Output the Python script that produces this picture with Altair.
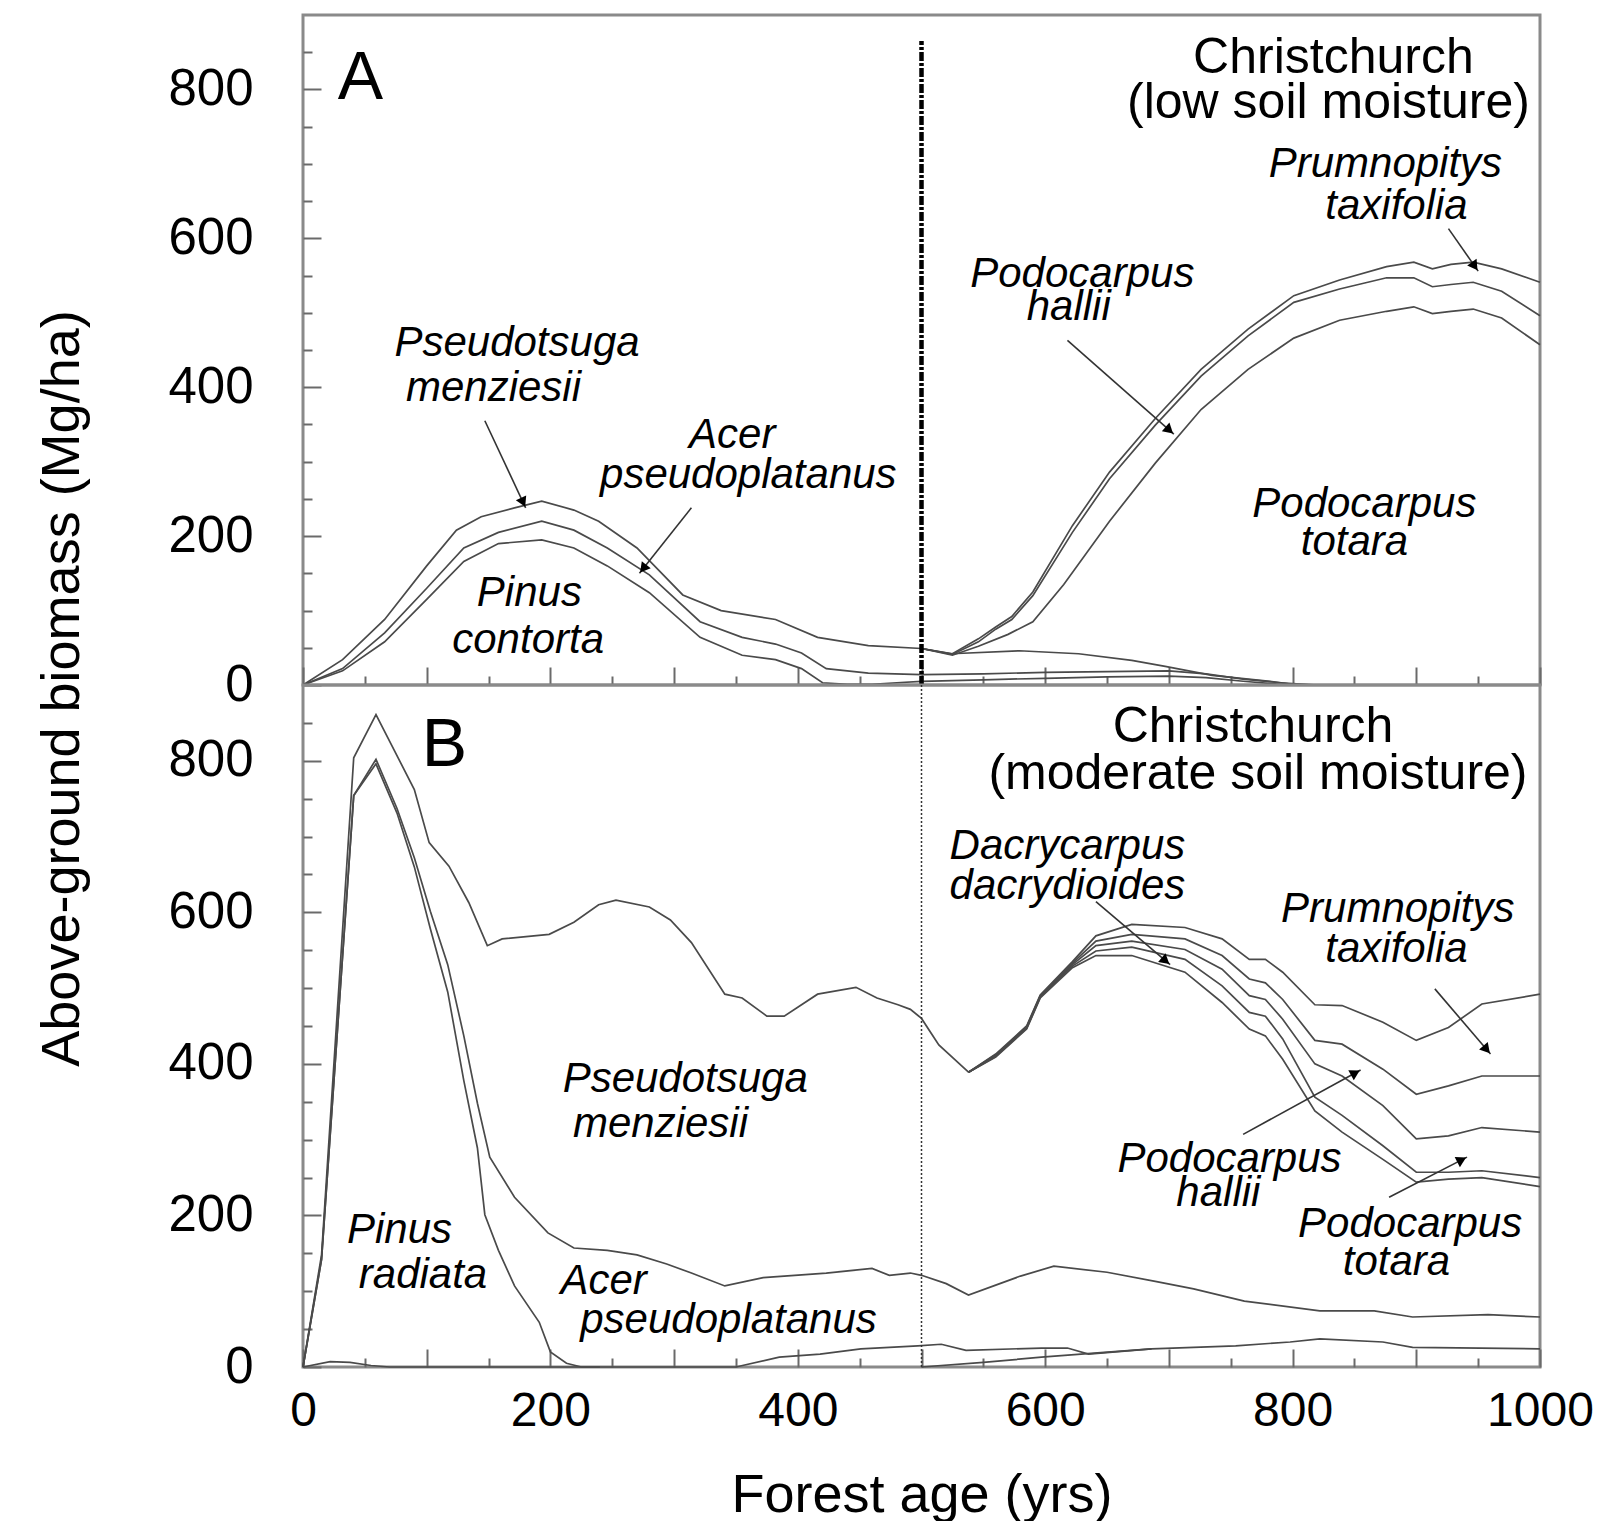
import math
import altair as alt
import pandas as pd

FONT = "Liberation Sans"

# ---------------- Panel A: Christchurch, low soil moisture ----------------
A_PSEUDO_YEAR = [0, 32, 66, 100, 124, 144, 171, 193, 219, 239, 270, 307, 338, 382, 416, 457, 500, 524, 579, 627, 670, 697, 735, 776, 800, 820]
A_PSEUDO_VAL = [0, 34, 88, 160, 208, 226, 238, 247, 235, 220, 184, 121, 100, 88, 64, 53, 49, 42, 46, 42, 33, 25, 13, 6, 1, 0]

A_ACER_YEAR = [0, 32, 66, 100, 130, 158, 193, 219, 246, 280, 321, 355, 382, 403, 423, 457, 500, 550, 600, 650, 700, 730, 760, 790, 820]
A_ACER_VAL = [0, 22, 70, 130, 184, 205, 220, 208, 184, 148, 85, 64, 55, 43, 22, 16, 14, 15, 17, 18, 19, 15, 8, 3, 0]

A_PINUS_YEAR = [0, 32, 66, 100, 130, 158, 193, 219, 246, 280, 321, 355, 382, 403, 420, 440, 460, 480, 500, 550, 600, 650, 700, 730, 760, 790, 810]
A_PINUS_VAL = [0, 19, 58, 115, 166, 190, 195, 184, 160, 124, 64, 40, 34, 22, 3, 1, 1, 3, 5, 7, 9, 11, 12, 10, 5, 1, 0]

A_NATIVE_YEAR = [500, 525, 546, 560, 573, 590, 622, 652, 689, 726, 764, 801, 838, 876, 898, 913, 928, 946, 969, 1000]
A_PRUM_VAL = [49, 42, 62, 78, 92, 125, 214, 286, 358, 424, 478, 523, 544, 562, 568, 559, 565, 568, 559, 541]
A_HALL_VAL = [49, 41, 58, 75, 88, 120, 205, 277, 349, 415, 469, 514, 532, 547, 547, 535, 538, 541, 529, 496]
A_TOT_YEAR = [500, 525, 546, 570, 590, 615, 652, 689, 726, 764, 801, 838, 876, 898, 913, 928, 946, 969, 1000]
A_TOT_VAL = [49, 40, 52, 68, 85, 135, 220, 298, 370, 424, 466, 490, 502, 508, 499, 502, 505, 493, 457]

# ---------------- Panel B: Christchurch, moderate soil moisture ----------------
B_PSEUDO_YEAR = [0, 15, 41, 59, 90, 102, 118, 134, 149, 161, 199, 219, 239, 253, 280, 297, 314, 341, 355, 375, 389, 416, 447, 464, 481, 491, 500, 514, 538]
B_PSEUDO_VAL = [0, 148, 804, 861, 762, 692, 661, 613, 556, 565, 571, 587, 610, 616, 607, 590, 560, 492, 487, 463, 463, 492, 501, 487, 478, 472, 460, 425, 389]

B_ACER_YEAR = [0, 15, 41, 59, 76, 90, 103, 117, 130, 141, 151, 171, 198, 219, 246, 270, 294, 314, 341, 372, 423, 460, 474, 491, 500, 520, 538, 560, 580, 607, 650, 689, 720, 761, 822, 866, 897, 958, 1000]
B_ACER_VAL = [0, 142, 754, 802, 737, 672, 601, 531, 437, 348, 277, 224, 177, 157, 154, 148, 136, 124, 107, 118, 124, 130, 121, 124, 121, 110, 95, 108, 120, 133, 125, 113, 103, 87, 74, 74, 66, 69, 66]

B_PINUS_YEAR = [0, 15, 41, 59, 76, 90, 103, 117, 130, 141, 147, 158, 171, 191, 200, 213, 225, 240]
B_PINUS_VAL = [0, 142, 754, 796, 731, 660, 578, 495, 378, 289, 201, 154, 107, 59, 20, 5, 0, 0]

B_LOW1_YEAR = [0, 22, 38, 55, 70, 350, 385, 418, 451, 497, 516, 536, 597, 618, 635, 686, 754, 798, 822, 873, 897, 1000]
B_LOW1_VAL = [0, 7, 6, 2, 0, 0, 13, 17, 24, 28, 30, 22, 25, 25, 17, 24, 28, 33, 37, 33, 26, 24]
B_LOW2_YEAR = [500, 550, 597, 645, 686]
B_LOW2_VAL = [0, 6, 13, 19, 24]

B_NATIVE_YEAR = [538, 560, 585, 596, 622, 641, 670, 713, 743, 765, 778, 792, 818, 840, 873, 900, 926, 953, 1000]
B_NAT1_VAL = [389, 413, 450, 491, 535, 569, 584, 580, 565, 538, 538, 521, 478, 477, 455, 431, 448, 479, 492]
B_NAT2_VAL = [389, 412, 449, 490, 533, 562, 571, 565, 543, 512, 507, 485, 431, 426, 393, 360, 371, 384, 384]
B_NAT3_VAL = [389, 411, 448, 489, 531, 556, 562, 551, 525, 490, 485, 459, 400, 384, 345, 301, 305, 316, 310]
B_NAT4_VAL = [389, 410, 447, 488, 529, 549, 554, 538, 503, 468, 463, 433, 356, 332, 292, 257, 257, 259, 250]
B_NAT5_VAL = [389, 409, 446, 487, 527, 543, 543, 521, 481, 446, 437, 406, 338, 310, 274, 244, 248, 250, 238]

# ---------------- axis values ----------------
X_LABELS = [0, 200, 400, 600, 800, 1000]
Y_LABELS = [0, 200, 400, 600, 800]
X_TICKS = list(range(0, 1001, 50))
Y_TICKS = list(range(0, 900, 50))

# ---------------- annotations (data units) ----------------
A_SPECIES = [("Pseudotsuga", 173, 442), ("menziesii", 154, 382), ("Acer", 347, 318),
             ("pseudoplatanus", 360, 265), ("Pinus", 183, 106), ("contorta", 182, 43),
             ("Prumnopitys", 875, 682), ("taxifolia", 884, 626), ("Podocarpus", 630, 535),
             ("hallii", 619, 490), ("Podocarpus", 858, 226), ("totara", 850, 175)]
A_HEAD = [("Christchurch", 833, 822), ("(low soil moisture)", 829, 761)]
A_LETTER = [("A", 28, 787)]
A_ARROWS = [(147, 355, 180, 238), (314, 238, 272, 150), (926, 613, 950, 556), (618, 463, 704, 337)]
A_VLINE = (500, 0, 865)

B_SPECIES = [("Pseudotsuga", 309, 363), ("menziesii", 289, 304), ("Pinus", 78, 163),
             ("radiata", 97, 104), ("Acer", 243, 96), ("pseudoplatanus", 344, 45),
             ("Dacrycarpus", 618, 670), ("dacrydioides", 618, 617), ("Prumnopitys", 885, 587),
             ("taxifolia", 884, 534), ("Podocarpus", 749, 257), ("hallii", 740, 213),
             ("Podocarpus", 895, 172), ("totara", 884, 121)]
B_HEAD = [("Christchurch", 768, 825), ("(moderate soil moisture)", 772, 763)]
B_LETTER = [("B", 96, 793)]
B_ARROWS = [(641, 614, 701, 531), (915, 499, 960, 413), (760, 307, 855, 392), (878, 224, 941, 277)]
B_VLINE = (500, 0, 900)

W, HA, HB = 1237, 670, 682
YMAX = 900


def long_df(series):
    rows = []
    for name, (xs_, vs_) in series.items():
        for x, v in zip(xs_, vs_):
            rows.append({"series": name, "year": x, "value": v})
    return pd.DataFrame(rows)


def arrow_frames(arrows, H):
    kx = W / 1000.0
    ky = H / YMAX
    lines, heads = [], []
    for x1, y1, x2, y2 in arrows:
        px1, py1, px2, py2 = x1 * kx, -y1 * ky, x2 * kx, -y2 * ky
        dx, dy = px2 - px1, py2 - py1
        L = math.hypot(dx, dy)
        ang = math.degrees(math.atan2(dx, -dy)) % 360
        hx, hy = px2 - 6 * dx / L, py2 - 6 * dy / L
        lines.append({"x1": x1, "y1": y1, "x2": x2, "y2": y2})
        heads.append({"hx": hx / kx, "hy": -hy / ky, "ang": ang})
    return pd.DataFrame(lines), pd.DataFrame(heads)


def tick_size(step):
    return {"condition": {"test": f"datum.value % {step} === 0", "value": 18}, "value": 9}


def make_panel(series, species, heads, letter, arrows, vline, H, bottom, y_title, vstyle):
    xs = alt.Scale(domain=[0, 1000], nice=False, zero=False)
    ys = alt.Scale(domain=[0, YMAX], nice=False, zero=False)
    df = long_df(series)

    ylab_kw = dict(orient="left", values=Y_LABELS, ticks=False, domain=False, grid=False,
                   labelFont=FONT, labelFontSize=51, labelColor="black", labelPadding=50,
                   labelOverlap=False)
    if y_title:
        y_axis = alt.Axis(title=y_title, titleFont=FONT, titleFontSize=54, titleFontWeight="normal",
                          titleColor="black", titleAngle=270, titleBaseline="alphabetic",
                          titleAlign="center", titleX=-225, titleY=673, **ylab_kw)
    else:
        y_axis = alt.Axis(title=None, **ylab_kw)

    if bottom:
        x_axis = alt.Axis(orient="bottom", values=X_LABELS, format="d", ticks=False, domain=False,
                          grid=False, labelFont=FONT, labelFontSize=48, labelColor="black",
                          labelPadding=20, labelFlush=False, labelOverlap=False,
                          title="Forest age (yrs)", titleFont=FONT, titleFontSize=54,
                          titleFontWeight="normal", titleColor="black",
                          titleBaseline="alphabetic", titleY=144)
        x_enc = alt.X("year:Q", scale=xs, axis=x_axis)
    else:
        x_enc = alt.X("year:Q", scale=xs, axis=None)

    lines = alt.Chart(df).mark_line(color="#4a4a4a", strokeWidth=1.7).encode(
        x=x_enc, y=alt.Y("value:Q", scale=ys, axis=y_axis), detail="series:N")

    ticks = alt.Chart(df).mark_line(strokeOpacity=0).encode(
        x=alt.X("year:Q", scale=xs, axis=alt.Axis(
            orient="top", offset=-H, values=X_TICKS, labels=False, domain=False, grid=False,
            title=None, tickColor="#6a6a6a", tickWidth=2, tickSize=tick_size(100))),
        y=alt.Y("value:Q", scale=ys, axis=alt.Axis(
            orient="right", offset=-W, values=Y_TICKS, labels=False, domain=False, grid=False,
            title=None, tickColor="#6a6a6a", tickWidth=2, tickSize=tick_size(200))),
        detail="series:N")

    vdf = pd.DataFrame({"x": [vline[0]], "y": [vline[1]], "y2": [vline[2]]})
    vrule = alt.Chart(vdf).mark_rule(**vstyle).encode(
        x=alt.X("x:Q", scale=xs, axis=None), y=alt.Y("y:Q", scale=ys, axis=None), y2="y2:Q")

    def text_layer(items, **style):
        tdf = pd.DataFrame(items, columns=["label", "tx", "ty"])
        return alt.Chart(tdf).mark_text(font=FONT, color="black", baseline="alphabetic", **style).encode(
            x=alt.X("tx:Q", scale=xs, axis=None), y=alt.Y("ty:Q", scale=ys, axis=None), text="label:N")

    sp = text_layer(species, fontSize=42, fontStyle="italic", align="center")
    hd = text_layer(heads, fontSize=50, align="center")
    lt = text_layer(letter, fontSize=68, align="left")

    ldf, hdf = arrow_frames(arrows, H)
    arr = alt.Chart(ldf).mark_rule(color="#333333", strokeWidth=1.6).encode(
        x=alt.X("x1:Q", scale=xs, axis=None), x2="x2:Q",
        y=alt.Y("y1:Q", scale=ys, axis=None), y2="y2:Q")
    ahead = alt.Chart(hdf).mark_point(shape="triangle-up", filled=True, size=130, color="black", opacity=1).encode(
        x=alt.X("hx:Q", scale=xs, axis=None), y=alt.Y("hy:Q", scale=ys, axis=None),
        angle=alt.Angle("ang:Q", scale=None))

    return alt.layer(lines, ticks, vrule, sp, hd, lt, arr, ahead).resolve_axis(
        x="independent", y="independent").properties(width=W, height=H)


panel_a = make_panel(
    {"Pseudotsuga menziesii": (A_PSEUDO_YEAR, A_PSEUDO_VAL),
     "Acer pseudoplatanus": (A_ACER_YEAR, A_ACER_VAL),
     "Pinus contorta": (A_PINUS_YEAR, A_PINUS_VAL),
     "Prumnopitys taxifolia": (A_NATIVE_YEAR, A_PRUM_VAL),
     "Podocarpus hallii": (A_NATIVE_YEAR, A_HALL_VAL),
     "Podocarpus totara": (A_TOT_YEAR, A_TOT_VAL)},
    A_SPECIES, A_HEAD, A_LETTER, A_ARROWS, A_VLINE, HA, False,
    "Above-ground biomass (Mg/ha)",
    dict(color="black", strokeWidth=4.5, strokeDash=[9, 2, 3, 2]))

panel_b = make_panel(
    {"Pseudotsuga menziesii": (B_PSEUDO_YEAR, B_PSEUDO_VAL),
     "Acer pseudoplatanus": (B_ACER_YEAR, B_ACER_VAL),
     "Pinus radiata": (B_PINUS_YEAR, B_PINUS_VAL),
     "low 1": (B_LOW1_YEAR, B_LOW1_VAL),
     "low 2": (B_LOW2_YEAR, B_LOW2_VAL),
     "native 1": (B_NATIVE_YEAR, B_NAT1_VAL),
     "native 2": (B_NATIVE_YEAR, B_NAT2_VAL),
     "native 3": (B_NATIVE_YEAR, B_NAT3_VAL),
     "native 4": (B_NATIVE_YEAR, B_NAT4_VAL),
     "native 5": (B_NATIVE_YEAR, B_NAT5_VAL)},
    B_SPECIES, B_HEAD, B_LETTER, B_ARROWS, B_VLINE, HB, True, None,
    dict(color="#333333", strokeWidth=1.5, strokeDash=[2, 2]))

chart = alt.vconcat(panel_a, panel_b, spacing=0, bounds="flush").properties(
    padding={"left": 25, "top": 5, "right": 0, "bottom": 0}, background="white"
).configure_view(stroke="#8a8a8a", strokeWidth=3)

chart.save("out.html", embed_options={"renderer": "svg", "actions": False})
